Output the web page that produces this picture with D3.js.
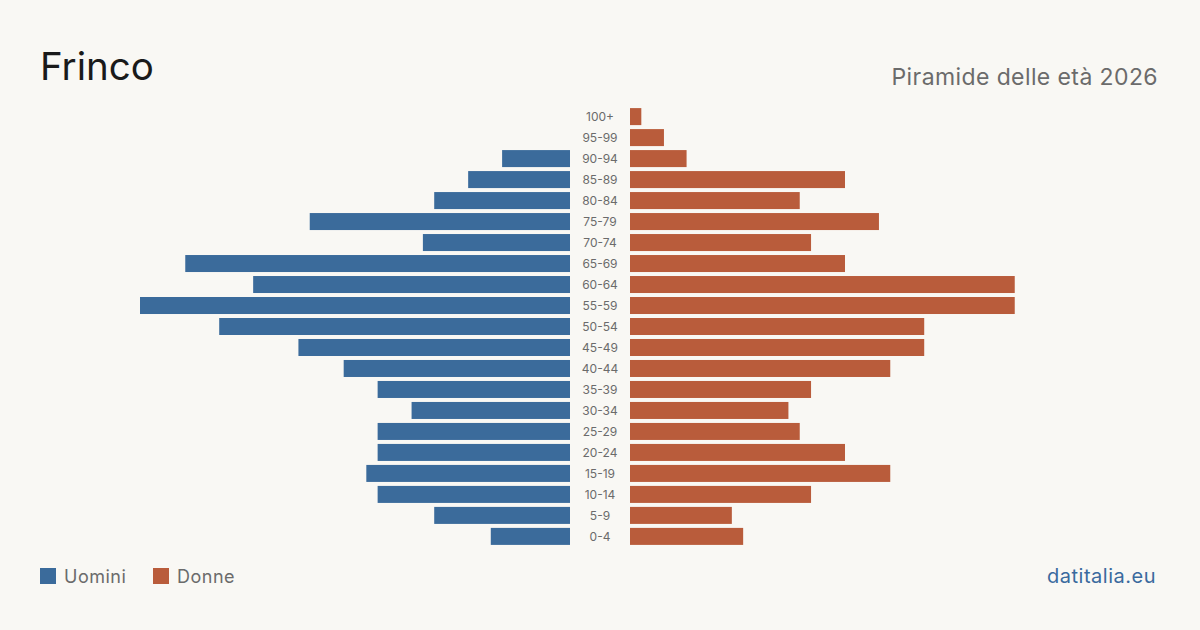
<!DOCTYPE html>
<html>
<head>
<meta charset="utf-8">
<script src="https://cdn.jsdelivr.net/npm/d3@7"></script>
<style>
  body { margin: 0; background: #f9f8f4; }
  svg { display: block; font-family: Inter, "Noto Sans", sans-serif; }
</style>
</head>
<body>
<div id="container"></div>
<script>
/* DATA */
const ageGroups = ["100+", "95-99", "90-94", "85-89", "80-84", "75-79", "70-74", "65-69", "60-64", "55-59",
                   "50-54", "45-49", "40-44", "35-39", "30-34", "25-29", "20-24", "15-19", "10-14", "5-9", "0-4"];
const men   = [0, 0, 6, 9, 12, 23, 13, 34, 28, 38, 31, 24, 20, 17, 14, 17, 17, 18, 17, 12, 7];
const women = [1, 3, 5, 19, 15, 22, 16, 19, 34, 34, 26, 26, 23, 16, 14, 15, 19, 23, 16, 9, 10];

const width = 1200, height = 630;
const center = 600, gap = 30;

const svg = d3.select("#container").append("svg")
  .attr("width", width).attr("height", height);

svg.append("rect").attr("width", width).attr("height", height).attr("fill", "#f9f8f4");

const maxVal = d3.max([...men, ...women]);

// length scale shared by both sides
const xLen = d3.scaleLinear().domain([0, maxVal]).range([0, 430]);

const y = d3.scaleBand()
  .domain(ageGroups)
  .range([106, 547])
  .paddingInner(0.19)
  .paddingOuter(0.1);

const rows = ageGroups.map((a, i) => ({age: a, m: men[i], f: women[i]}));

// men bars
svg.selectAll(".bar-m")
  .data(rows)
  .join("rect")
  .attr("class", "bar-m")
  .attr("x", d => center - gap - xLen(d.m))
  .attr("y", d => y(d.age))
  .attr("width", d => xLen(d.m))
  .attr("height", y.bandwidth())
  .attr("fill", "#3b6b9b");

// women bars
svg.selectAll(".bar-f")
  .data(rows)
  .join("rect")
  .attr("class", "bar-f")
  .attr("x", center + gap)
  .attr("y", d => y(d.age))
  .attr("width", d => xLen(d.f))
  .attr("height", y.bandwidth())
  .attr("fill", "#b95c3b");

// age labels
svg.selectAll(".age")
  .data(rows)
  .join("text")
  .attr("class", "age")
  .attr("x", center)
  .attr("y", d => y(d.age) + y.bandwidth() / 2)
  .attr("dy", "0.35em")
  .attr("text-anchor", "middle")
  .attr("font-size", 12)
  .attr("fill", "#6b6b6b")
  .text(d => d.age);

// title
svg.append("text")
  .attr("x", 40).attr("y", 80)
  .attr("font-size", 38.5)
  .attr("fill", "#1a1a1a")
  .text("Frinco");

svg.append("text")
  .attr("x", 1158).attr("y", 85)
  .attr("text-anchor", "end")
  .attr("font-size", 23)
  .attr("letter-spacing", 0.4)
  .attr("fill", "#6b6b6b")
  .text("Piramide delle età 2026");

// legend
const legend = [
  {label: "Uomini", color: "#3b6b9b", x: 40},
  {label: "Donne", color: "#b95c3b", x: 153}
];
const lg = svg.selectAll(".legend")
  .data(legend)
  .join("g")
  .attr("class", "legend")
  .attr("transform", d => `translate(${d.x},568)`);
lg.append("rect").attr("width", 16).attr("height", 16).attr("fill", d => d.color);
lg.append("text")
  .attr("x", 24).attr("y", 15)
  .attr("font-size", 18)
  .attr("letter-spacing", 0.5)
  .attr("fill", "#6b6b6b")
  .text(d => d.label);

svg.append("text")
  .attr("x", 1156).attr("y", 583)
  .attr("text-anchor", "end")
  .attr("font-size", 20)
  .attr("letter-spacing", 0.5)
  .attr("fill", "#3a6a9e")
  .text("datitalia.eu");
</script>
</body>
</html>
